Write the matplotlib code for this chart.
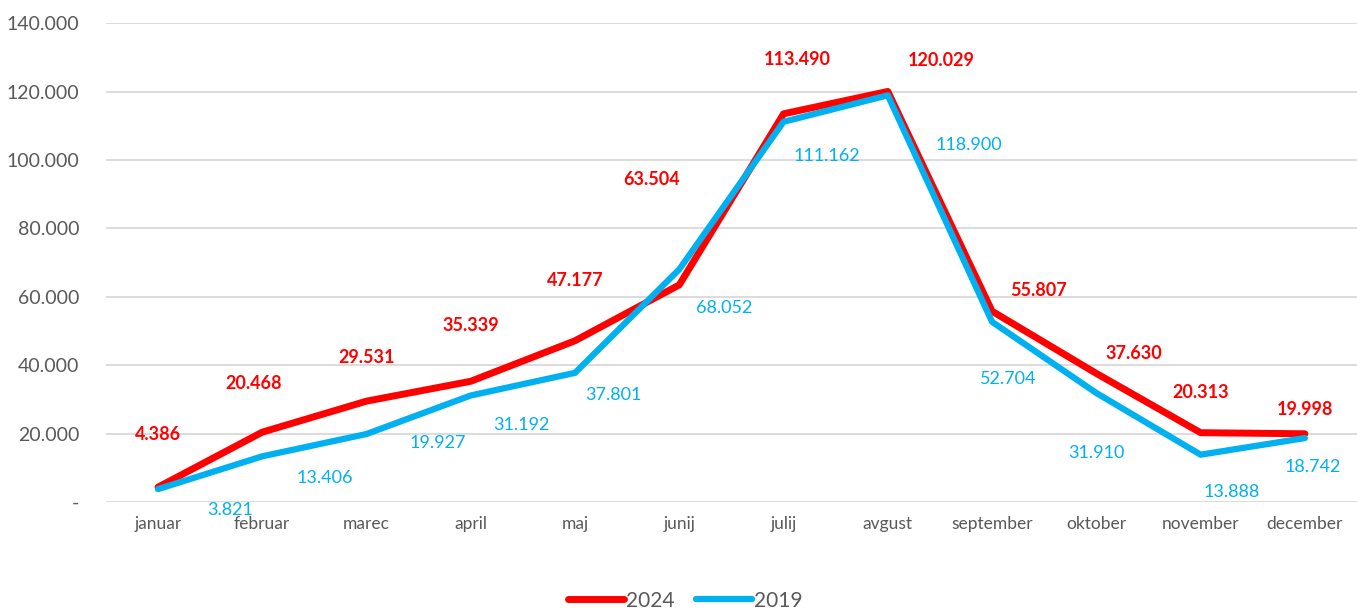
import matplotlib.pyplot as plt
from matplotlib.ticker import FuncFormatter

plt.rcParams['font.family'] = ['Lato', 'DejaVu Sans']

months = ['januar', 'februar', 'marec', 'april', 'maj', 'junij',
          'julij', 'avgust', 'september', 'oktober', 'november', 'december']
v2024 = [4386, 20468, 29531, 35339, 47177, 63504,
         113490, 120029, 55807, 37630, 20313, 19998]
v2019 = [3821, 13406, 19927, 31192, 37801, 68052,
         111162, 118900, 52704, 31910, 13888, 18742]

# label offsets in pixels (dx, dy)
off2024 = [(0, 53), (-9, 49), (0, 44), (0, 56), (0, 60), (-28, 105),
           (14, 54), (53, 31), (46, 21), (38, 20), (0, 40), (0, 24)]
off2019 = [(72, -21), (63, -22), (71, -9), (51, -30), (38, -22), (45, -39),
           (43, -34), (81, -50), (16, -57), (0, -60), (31, -37), (8, -29)]

red = '#FF0000'
blue = '#00B0F0'
grey = '#595959'

fig = plt.figure(figsize=(13.57, 6.08), dpi=100)
ax = fig.add_axes([0.078, 0.174, 0.922, 0.788])

x = range(len(months))
ax.plot(x, v2024, color=red, lw=5, label='2024', solid_capstyle='round', solid_joinstyle='round')
ax.plot(x, v2019, color=blue, lw=4.5, label='2019', solid_capstyle='round', solid_joinstyle='round')

for i, v in enumerate(v2024):
    ax.annotate(f'{v:,}'.replace(',', '.'), (i, v), xytext=off2024[i], textcoords='offset pixels',
                ha='center', va='center', color=red, fontsize=13, fontweight='bold')
for i, v in enumerate(v2019):
    ax.annotate(f'{v:,}'.replace(',', '.'), (i, v), xytext=off2019[i], textcoords='offset pixels',
                ha='center', va='center', color=blue, fontsize=13)

ax.set_xlim(-0.5, len(months) - 0.5)
ax.set_ylim(0, 140000)
ax.set_yticks(range(0, 140001, 20000))
ax.yaxis.set_major_formatter(FuncFormatter(lambda v, p: '-' if v == 0 else f'{int(v):,}'.replace(',', '.')))
ax.set_xticks(list(x))
ax.set_xticklabels(months)
ax.grid(axis='y', color='#D9D9D9', lw=1.3)
ax.set_axisbelow(True)
for s in ax.spines.values():
    s.set_visible(False)
ax.tick_params(axis='y', length=0, pad=19, labelsize=14, labelcolor=grey)
ax.tick_params(axis='x', length=0, pad=10, labelsize=12.5, labelcolor=grey)

fig.legend(loc='lower center', bbox_to_anchor=(0.505, -0.035), ncol=2, frameon=False,
           fontsize=15, labelcolor=grey, handlelength=2.7, handletextpad=0.1, columnspacing=1.0)

fig.savefig('out.png', dpi=100)
